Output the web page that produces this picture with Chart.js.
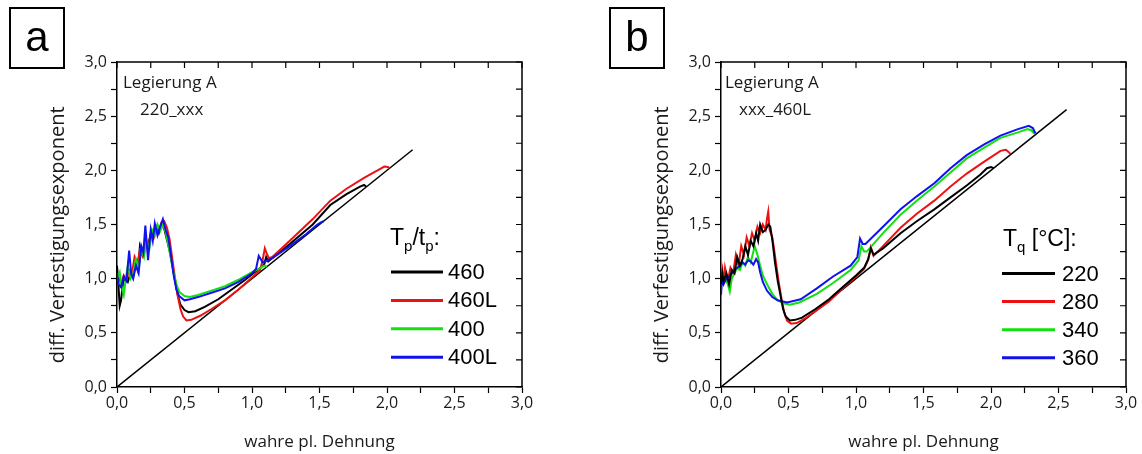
<!DOCTYPE html>
<html><head><meta charset="utf-8">
<script src="https://cdn.jsdelivr.net/npm/chart.js@4/dist/chart.umd.min.js"></script>
<style>
html,body{margin:0;padding:0;background:#fff;}
body{width:1142px;height:454px;position:relative;overflow:hidden;}
.panel{position:absolute;top:0;width:538px;height:454px;}
</style></head><body>
<div class="panel" style="left:0"><canvas id="ca" width="538" height="454"></canvas></div>
<div class="panel" style="left:604px"><canvas id="cb" width="538" height="454"></canvas></div>
<script>
// ---------------- data ----------------
const tickLabels = ['0,0','0,5','1,0','1,5','2,0','2,5','3,0'];
const xTitle = 'wahre pl. Dehnung';
const yTitle = 'diff. Verfestigungsexponent';

const seriesNamesA = ['460','460L','400','400L'];
const seriesNamesB = ['220','280','340','360'];
const notesA = ['Legierung A','220_xxx'];
const notesB = ['Legierung A','xxx_460L'];

const a460 = [[0.000,1.12],[0.010,0.95],[0.020,0.75],[0.030,0.80],[0.045,0.97],[0.060,1.00],[0.080,0.97],[0.100,1.05],[0.120,1.02],[0.140,1.15],[0.155,1.08],[0.170,1.30],[0.190,1.22],[0.210,1.35],[0.230,1.30],[0.250,1.42],[0.270,1.38],[0.290,1.48],[0.310,1.42],[0.330,1.50],[0.350,1.46],[0.370,1.36],[0.390,1.26],[0.410,1.12],[0.430,0.98],[0.450,0.85],[0.470,0.76],[0.500,0.71],[0.530,0.69],[0.580,0.70],[0.650,0.74],[0.750,0.81],[0.850,0.90],[0.950,0.99],[1.050,1.09],[1.090,1.13],[1.105,1.20],[1.120,1.16],[1.200,1.24],[1.280,1.32],[1.450,1.50],[1.580,1.68],[1.700,1.78],[1.800,1.85],[1.830,1.865],[1.845,1.85]];
const a460L = [[0.000,1.05],[0.015,1.00],[0.030,0.95],[0.050,1.03],[0.070,0.99],[0.090,1.08],[0.110,1.04],[0.130,1.20],[0.150,1.14],[0.170,1.26],[0.190,1.21],[0.210,1.33],[0.230,1.29],[0.250,1.41],[0.270,1.37],[0.290,1.47],[0.310,1.44],[0.330,1.52],[0.350,1.53],[0.370,1.47],[0.390,1.36],[0.410,1.18],[0.430,1.00],[0.450,0.84],[0.470,0.72],[0.490,0.65],[0.515,0.615],[0.550,0.62],[0.620,0.66],[0.700,0.72],[0.800,0.80],[0.900,0.90],[1.000,1.01],[1.060,1.08],[1.080,1.18],[1.095,1.28],[1.110,1.23],[1.125,1.19],[1.150,1.20],[1.280,1.35],[1.450,1.55],[1.580,1.72],[1.700,1.83],[1.830,1.93],[1.930,2.00],[1.980,2.035],[2.005,2.03],[2.020,2.02]];
const a400 = [[0.000,1.00],[0.020,1.06],[0.035,0.92],[0.050,0.85],[0.065,1.00],[0.080,1.12],[0.100,1.00],[0.120,1.05],[0.140,1.18],[0.160,1.10],[0.180,1.28],[0.200,1.20],[0.220,1.35],[0.240,1.28],[0.260,1.45],[0.280,1.40],[0.300,1.50],[0.320,1.44],[0.340,1.50],[0.360,1.43],[0.380,1.31],[0.400,1.18],[0.420,1.05],[0.440,0.95],[0.460,0.88],[0.500,0.84],[0.540,0.83],[0.600,0.85],[0.700,0.89],[0.800,0.93],[0.900,0.99],[1.000,1.06],[1.050,1.09],[1.090,1.12],[1.110,1.11]];
const a400L = [[0.000,1.05],[0.010,0.95],[0.030,0.92],[0.050,1.02],[0.070,0.98],[0.090,1.26],[0.105,1.05],[0.120,1.00],[0.140,1.12],[0.160,1.05],[0.180,1.30],[0.195,1.24],[0.210,1.49],[0.230,1.17],[0.250,1.45],[0.265,1.35],[0.280,1.51],[0.300,1.40],[0.320,1.48],[0.340,1.55],[0.360,1.45],[0.380,1.38],[0.400,1.21],[0.420,1.03],[0.440,0.90],[0.460,0.84],[0.500,0.80],[0.540,0.81],[0.600,0.83],[0.700,0.87],[0.800,0.91],[0.900,0.97],[1.000,1.05],[1.030,1.09],[1.050,1.21],[1.080,1.15],[1.150,1.19],[1.280,1.30],[1.400,1.41],[1.480,1.495],[1.510,1.52],[1.530,1.53]];
const diagA = [[0,0],[2.19,2.19]];

const b220 = [[0.000,0.95],[0.010,1.05],[0.020,0.98],[0.040,1.05],[0.060,0.95],[0.080,1.08],[0.100,1.05],[0.120,1.20],[0.140,1.12],[0.160,1.18],[0.180,1.30],[0.200,1.22],[0.220,1.35],[0.240,1.30],[0.260,1.42],[0.275,1.35],[0.290,1.50],[0.310,1.43],[0.330,1.45],[0.350,1.50],[0.365,1.48],[0.380,1.36],[0.400,1.15],[0.420,0.98],[0.440,0.85],[0.460,0.72],[0.480,0.65],[0.510,0.615],[0.550,0.62],[0.600,0.64],[0.700,0.72],[0.800,0.81],[0.900,0.92],[1.000,1.03],[1.060,1.10],[1.090,1.18],[1.110,1.28],[1.130,1.22],[1.200,1.28],[1.330,1.42],[1.450,1.53],[1.580,1.64],[1.700,1.75],[1.820,1.86],[1.920,1.96],[1.970,2.02],[2.000,2.03],[2.020,2.02]];
const b280 = [[0.000,1.00],[0.010,1.08],[0.020,0.95],[0.030,1.10],[0.050,0.98],[0.070,1.10],[0.090,1.05],[0.110,1.22],[0.130,1.12],[0.150,1.30],[0.170,1.22],[0.190,1.38],[0.210,1.30],[0.230,1.42],[0.250,1.35],[0.270,1.48],[0.290,1.42],[0.310,1.50],[0.330,1.45],[0.340,1.55],[0.350,1.62],[0.360,1.45],[0.380,1.38],[0.390,1.30],[0.410,1.12],[0.430,0.95],[0.450,0.80],[0.470,0.68],[0.490,0.61],[0.520,0.585],[0.560,0.59],[0.620,0.63],[0.700,0.70],[0.800,0.79],[0.900,0.91],[1.000,1.02],[1.060,1.09],[1.090,1.17],[1.110,1.29],[1.130,1.21],[1.200,1.30],[1.330,1.47],[1.450,1.60],[1.580,1.72],[1.700,1.85],[1.820,1.97],[1.950,2.08],[2.070,2.18],[2.110,2.19],[2.130,2.17],[2.145,2.15]];
const b340 = [[0.000,0.95],[0.010,1.05],[0.030,1.00],[0.050,0.95],[0.065,0.88],[0.080,1.00],[0.100,1.05],[0.120,1.10],[0.140,1.08],[0.160,1.15],[0.180,1.12],[0.200,1.20],[0.220,1.15],[0.240,1.25],[0.250,1.30],[0.270,1.22],[0.290,1.12],[0.310,1.03],[0.340,0.95],[0.380,0.86],[0.420,0.80],[0.470,0.77],[0.510,0.76],[0.580,0.78],[0.710,0.86],[0.830,0.96],[0.960,1.08],[1.020,1.17],[1.040,1.30],[1.060,1.25],[1.080,1.25],[1.200,1.42],[1.330,1.59],[1.450,1.72],[1.580,1.85],[1.700,1.98],[1.820,2.11],[1.950,2.21],[2.070,2.30],[2.200,2.35],[2.270,2.38],[2.300,2.37],[2.320,2.34]];
const b360 = [[0.000,0.85],[0.010,1.02],[0.020,0.95],[0.040,1.00],[0.060,1.02],[0.080,1.05],[0.100,1.08],[0.120,1.10],[0.140,1.12],[0.160,1.15],[0.180,1.13],[0.200,1.17],[0.220,1.16],[0.240,1.13],[0.260,1.18],[0.275,1.15],[0.290,1.06],[0.310,0.97],[0.340,0.89],[0.380,0.83],[0.420,0.80],[0.490,0.78],[0.590,0.81],[0.710,0.91],[0.830,1.02],[0.960,1.12],[1.010,1.20],[1.030,1.37],[1.050,1.32],[1.070,1.32],[1.200,1.48],[1.330,1.64],[1.450,1.76],[1.580,1.88],[1.700,2.02],[1.820,2.14],[1.950,2.24],[2.070,2.32],[2.200,2.38],[2.280,2.41],[2.310,2.39],[2.330,2.34]];
const diagB = [[0,0],[2.56,2.56]];

// ---------------- styling ----------------
const COLORS = ['#000000','#ee1111','#11e011','#1111ee'];
const TEXT = '#1a1a1a';
const SANS = "'Open Sans', sans-serif";
const ARIAL = "'Liberation Sans', Arial, sans-serif";

function pts(a){ return a.map(p => ({x:p[0], y:p[1]})); }

function tickCb(v){
  const k = v*2;
  if (Math.abs(k - Math.round(k)) < 1e-6) return tickLabels[Math.round(k)];
  return '';
}

const decoPlugin = {
  id: 'deco',
  afterDraw(chart, args, o) {
    const ctx = chart.ctx;
    const ca = chart.chartArea;
    const xs = chart.scales.x, ys = chart.scales.y;
    ctx.save();
    // box frame (top + right) with inward ticks
    ctx.strokeStyle = '#000'; ctx.lineWidth = 1.5;
    ctx.beginPath();
    ctx.moveTo(ca.left, ca.top); ctx.lineTo(ca.right, ca.top); ctx.lineTo(ca.right, ca.bottom);
    ctx.stroke();
    ctx.lineWidth = 1.2;
    ctx.beginPath();
    xs.ticks.forEach(t => { const px = xs.getPixelForValue(t.value); ctx.moveTo(px, ca.top); ctx.lineTo(px, ca.top + 6); });
    ys.ticks.forEach(t => { const py = ys.getPixelForValue(t.value); ctx.moveTo(ca.right, py); ctx.lineTo(ca.right - 6, py); });
    ctx.stroke();
    // panel letter box
    ctx.lineWidth = 2;
    ctx.strokeRect(o.box.x, o.box.y, o.box.w, o.box.h);
    ctx.fillStyle = '#000';
    ctx.font = '42px ' + ARIAL;
    ctx.textAlign = 'center'; ctx.textBaseline = 'middle';
    ctx.fillText(o.box.letter, o.box.x + o.box.w/2, o.box.y + o.box.h/2 + 1);
    // notes
    ctx.fillStyle = TEXT;
    ctx.font = '17px ' + SANS;
    ctx.textAlign = 'left';
    o.notes.forEach((n, i) => ctx.fillText(n, o.noteX[i], o.noteY[i]));
    // legend title with subscripts
    let x = o.legend.titleX;
    ctx.textBaseline = 'alphabetic';
    ctx.fillStyle = '#000';
    o.legend.title.forEach(part => {
      ctx.font = part[1] + 'px ' + ARIAL;
      ctx.fillText(part[0], x, o.legend.titleBase + part[2]);
      x += ctx.measureText(part[0]).width;
    });
    // legend entries
    ctx.textBaseline = 'middle';
    ctx.font = '22px ' + ARIAL;
    const ds = chart.data.datasets.filter(d => !d.isRef);
    ds.forEach((d, i) => {
      const y = o.legend.rowY + i * o.legend.rowDy;
      ctx.strokeStyle = d.borderColor; ctx.lineWidth = 3;
      ctx.beginPath(); ctx.moveTo(o.legend.lineX1, y); ctx.lineTo(o.legend.lineX2, y); ctx.stroke();
      ctx.fillStyle = '#000';
      ctx.fillText(d.label, o.legend.textX, y + 1);
    });
    ctx.restore();
  }
};

function makeChart(id, names, series, orders, diag, deco) {
  const datasets = series.map((s, i) => ({
    label: names[i], data: pts(s), borderColor: COLORS[i], borderWidth: 2,
    pointRadius: 0, tension: 0, fill: false, order: orders[i]
  }));
  datasets.push({ label: 'ref', isRef: true, data: pts(diag), borderColor: '#000', borderWidth: 1.5, pointRadius: 0, tension: 0, fill: false, order: 10 });
  const tickFont = { family: SANS, size: 16 };
  return new Chart(document.getElementById(id), {
    type: 'line',
    data: { datasets },
    options: {
      responsive: false, animation: false, events: [],
      layout: { padding: { left: 0, top: 62, right: 16, bottom: 0 } },
      plugins: { legend: { display: false }, tooltip: { enabled: false }, deco },
      scales: {
        x: {
          type: 'linear', min: 0, max: 3,
          ticks: { stepSize: 0.25, autoSkip: false, maxRotation: 0, callback: tickCb, color: TEXT, font: tickFont, padding: 1 },
          grid: { drawOnChartArea: false, drawTicks: true, tickLength: 6, tickColor: '#000', tickWidth: 1.2 },
          border: { display: true, color: '#000', width: 1.5 },
          title: { display: true, text: xTitle, color: TEXT, font: { family: SANS, size: 17 }, padding: { top: 0, bottom: 2 } },
          afterFit(s) { s.height = 67; s.paddingLeft = 0; s.paddingRight = 0; s.paddingTop = 0; s.paddingBottom = 0; }
        },
        y: {
          type: 'linear', min: 0, max: 3,
          ticks: { stepSize: 0.25, autoSkip: false, callback: tickCb, color: TEXT, font: tickFont, padding: 4 },
          grid: { drawOnChartArea: false, drawTicks: true, tickLength: 6, tickColor: '#000', tickWidth: 1.2 },
          border: { display: true, color: '#000', width: 1.5 },
          title: { display: true, text: yTitle + '    ', color: TEXT, font: { family: SANS, size: 20 }, padding: { top: 46, bottom: 0 } },
          afterFit(s) { s.width = 117; s.paddingLeft = 0; s.paddingRight = 0; s.paddingTop = 0; s.paddingBottom = 0; }
        }
      }
    },
    plugins: [decoPlugin]
  });
}

makeChart('ca', seriesNamesA, [a460, a460L, a400, a400L], [3, 2, 1, 0], diagA, {
  box: { x: 10, y: 8, w: 54, h: 60, letter: 'a' },
  notes: notesA, noteX: [123, 140], noteY: [83, 110],
  legend: { title: [['T',23,0],['p',15,6],['/t',23,0],['p',15,6],[':',23,0]], titleX: 390, titleBase: 245,
            lineX1: 391, lineX2: 443, textX: 448, rowY: 272, rowDy: 28.4 }
});
makeChart('cb', seriesNamesB, [b220, b280, b340, b360], [0, 3, 2, 1], diagB, {
  box: { x: 6, y: 8, w: 54, h: 60, letter: 'b' },
  notes: notesB, noteX: [121, 135], noteY: [83, 110],
  legend: { title: [['T',23,0],['q',15,6],[' [°C]:',23,0]], titleX: 399, titleBase: 246,
            lineX1: 398, lineX2: 451, textX: 458, rowY: 273.5, rowDy: 28.1 }
});
</script>
</body></html>
